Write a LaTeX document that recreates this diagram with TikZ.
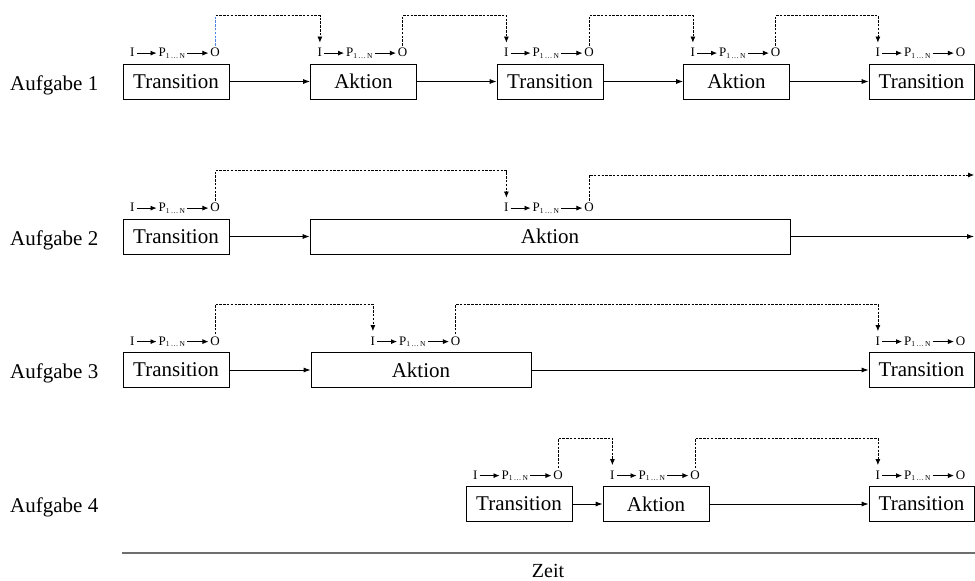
\documentclass[tikz,border=0pt]{standalone}
\usepackage{fontspec}
\setmainfont{Liberation Serif}
\usepackage{tikz}
\usetikzlibrary{arrows.meta,positioning}
\usepackage{xcolor}
\definecolor{zlgray}{RGB}{110,110,110}
\definecolor{zlblue}{RGB}{80,130,230}
\tikzstyle{arrow} = [line width=0.8pt,-{Latex[length=7pt,width=5pt]}]
\tikzstyle{link} = [line width=0.75pt,dash pattern=on 2.5pt off 1.3pt,-{Latex[length=6pt,width=5pt]},shorten >=3pt]
\tikzstyle{task} = [rectangle, draw, line width=0.8pt, minimum width=106pt, minimum height=35pt, inner sep=0pt, font=\fontsize{21}{24}\selectfont]
\tikzstyle{tasklabel} = [anchor=base west, inner sep=0pt, font=\fontsize{21}{24}\selectfont]
\tikzstyle{ipo} = [inner sep=0pt, outer sep=2pt, text height=9pt, text depth=2pt, font=\fontsize{13}{15}\selectfont]
\tikzstyle{ipoarrow} = [line width=0.8pt,-{Latex[length=6pt,width=5pt]}]

% I -> P -> O above a task box
\newcommand{\ipo}[3][-4pt]{%
  \node[ipo, above=3pt of #3, xshift=#1] (#2-p) {P\textsubscript{\fontsize{7.5}{8}\selectfont 1\,\dots\,N}};
  \node[ipo, left=20pt of #2-p] (#2-i) {I};
  \node[ipo, right=21pt of #2-p] (#2-o) {O};
  \draw[ipoarrow] (#2-i) -- (#2-p);
  \draw[ipoarrow] (#2-p) -- (#2-o);
}

\begin{document}
\begin{tikzpicture}[x=1pt,y=-1pt]
    \useasboundingbox (0,0) rectangle (975,581);

    % Aufgabe 1
    \node[tasklabel] (lab1) at (10,90) {Aufgabe 1};
    \node[task] (t11) at (176,81.5) {Transition};
    \node[task] (a11) at (363.5,81.5) {Aktion};
    \node[task] (t12) at (550,81.5) {Transition};
    \node[task] (a12) at (736.5,81.5) {Aktion};
    \node[task, minimum width=105pt] (t13) at (921.5,81.5) {Transition};
    \ipo{t11}{t11}
    \ipo{a11}{a11}
    \ipo{t12}{t12}
    \ipo{a12}{a12}
    \ipo{t13}{t13}

    % Aufgabe 2
    \node[tasklabel] (lab2) at (10,245) {Aufgabe 2};
    \node[task] (t21) at (176,236.5) {Transition};
    \node[task, minimum width=480pt] (a21) at (550,236.5) {Aktion};
    \coordinate (e21) at (974,236.5);
    \coordinate (e22) at (974,175);
    \ipo{t21}{t21}
    \ipo{a21}{a21}

    % Aufgabe 3
    \node[tasklabel] (lab3) at (10,378.5) {Aufgabe 3};
    \node[task] (t31) at (176,370) {Transition};
    \node[task, minimum width=220pt] (a31) at (421,370) {Aktion};
    \node[task, minimum width=105pt] (t32) at (921.5,370) {Transition};
    \ipo{t31}{t31}
    \ipo[-8.5pt]{a31}{a31}
    \ipo{t32}{t32}

    % Aufgabe 4
    \node[tasklabel] (lab4) at (10,512.5) {Aufgabe 4};
    \node[task] (t41) at (519,504) {Transition};
    \node[task] (a41) at (656,504) {Aktion};
    \node[task, minimum width=105pt] (t42) at (921.5,504) {Transition};
    \ipo{t41}{t41}
    \ipo{a41}{a41}
    \ipo{t42}{t42}

    % Zeitachse
    \coordinate (axs) at (122,553);
    \coordinate (axe) at (975,553);
    \node[inner sep=0pt, font=\fontsize{20}{22}\selectfont] (zeit) at (548,570.5) {Zeit};
    \draw[zlgray, line width=1.5pt] (axs) -- (axe);

    % Connections
    \draw[arrow] (t11) -- (a11);
    \draw[arrow] (a11) -- (t12);
    \draw[arrow] (t12) -- (a12);
    \draw[arrow] (a12) -- (t13);
    \draw[arrow] (t21) -- (a21);
    \draw[arrow] (a21) -- (e21);
    \draw[arrow] (t31) -- (a31);
    \draw[arrow] (a31) -- (t32);
    \draw[arrow] (t41) -- (a41);
    \draw[arrow] (a41) -- (t42);

    % Daten-Weitergabe
    \draw[link] (t11-o.north) -- ++(0,-30) -| (a11-i.north);
    \draw[zlblue, line width=0.75pt, dash pattern=on 2.5pt off 1.3pt] (t11-o.north) -- ++(0,-30);
    \draw[link] (a11-o.north) -- ++(0,-30) -| (t12-i.north);
    \draw[link] (t12-o.north) -- ++(0,-30) -| (a12-i.north);
    \draw[link] (a12-o.north) -- ++(0,-30) -| (t13-i.north);
    \draw[link] (t21-o.north) -- ++(0,-30) -| (a21-i.north);
    \draw[link, shorten >=0pt] (a21-o.north) |- (e22);
    \draw[link] (t31-o.north) -- ++(0,-30) -| (a31-i.north);
    \draw[link] (a31-o.north) -- ++(0,-30) -| (t32-i.north);
    \draw[link] (t41-o.north) -- ++(0,-30) -| (a41-i.north);
    \draw[link] (a41-o.north) -- ++(0,-30) -| (t42-i.north);
\end{tikzpicture}
\end{document}
